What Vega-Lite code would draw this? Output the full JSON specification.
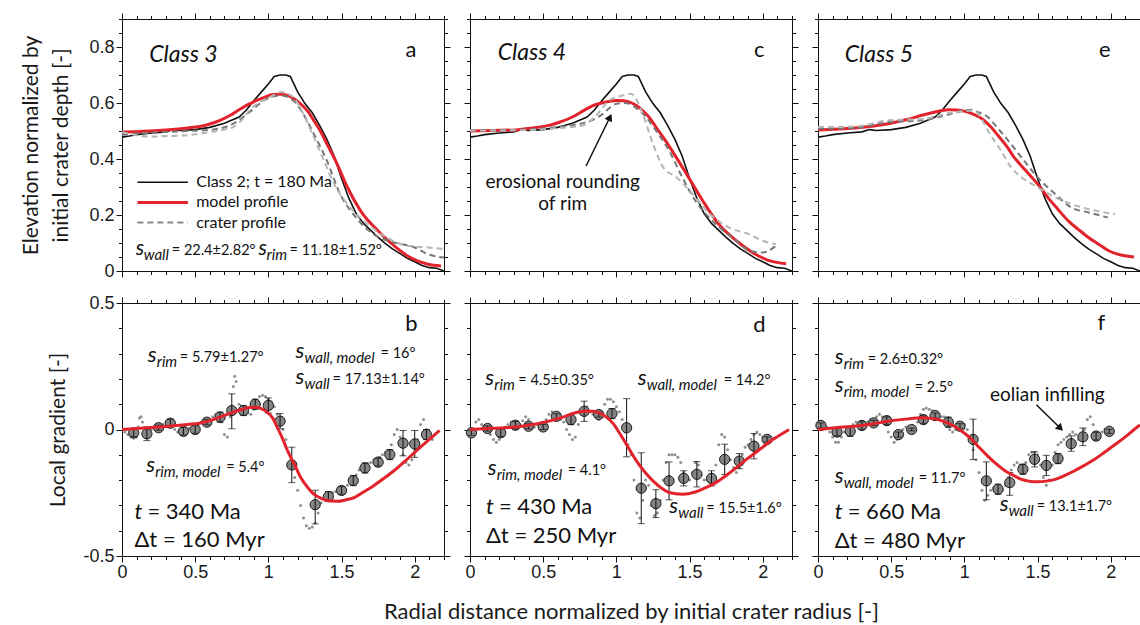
{
"$schema": "https://vega.github.io/schema/vega-lite/v6.json",
"padding": {"left": 20, "top": 9, "right": 0, "bottom": 0},
"background": "white",
"config": {
 "view": {"stroke": "#111", "strokeWidth": 1},
 "axis": {"domain": false, "grid": false, "tickColor": "#111", "tickWidth": 1, "labelFont": "Liberation Sans", "labelFontSize": 18, "labelColor": "#1a1a1a", "labelPadding": 2, "labelOverlap": false, "labelFlush": false, "titleFont": "Lato", "titleFontSize": 21, "titleFontWeight": "normal", "titleColor": "#1a1a1a"},
 "text": {"font": "Lato", "color": "#111"}
},
"datasets": {
 "class2": [{"x":0,"y":0.478},{"x":0.05,"y":0.482},{"x":0.1,"y":0.487},{"x":0.2,"y":0.493},{"x":0.3,"y":0.497},{"x":0.35,"y":0.505},{"x":0.4,"y":0.502},{"x":0.5,"y":0.505},{"x":0.6,"y":0.513},{"x":0.7,"y":0.528},{"x":0.8,"y":0.55},{"x":0.85,"y":0.575},{"x":0.9,"y":0.608},{"x":0.95,"y":0.638},{"x":1.0,"y":0.668},{"x":1.04,"y":0.695},{"x":1.08,"y":0.7},{"x":1.12,"y":0.7},{"x":1.15,"y":0.695},{"x":1.2,"y":0.64},{"x":1.25,"y":0.598},{"x":1.3,"y":0.565},{"x":1.35,"y":0.52},{"x":1.4,"y":0.47},{"x":1.45,"y":0.41},{"x":1.5,"y":0.33},{"x":1.55,"y":0.26},{"x":1.6,"y":0.205},{"x":1.65,"y":0.17},{"x":1.7,"y":0.145},{"x":1.75,"y":0.12},{"x":1.8,"y":0.098},{"x":1.85,"y":0.078},{"x":1.9,"y":0.062},{"x":1.95,"y":0.045},{"x":2.0,"y":0.033},{"x":2.05,"y":0.02},{"x":2.1,"y":0.012},{"x":2.15,"y":0.01},{"x":2.2,"y":0.0}],
 "a_model": [{"x":0,"y":0.496},{"x":0.15,"y":0.499},{"x":0.3,"y":0.504},{"x":0.45,"y":0.511},{"x":0.53,"y":0.516},{"x":0.6,"y":0.525},{"x":0.67,"y":0.538},{"x":0.74,"y":0.556},{"x":0.8,"y":0.576},{"x":0.86,"y":0.594},{"x":0.92,"y":0.609},{"x":0.98,"y":0.622},{"x":1.03,"y":0.63},{"x":1.08,"y":0.631},{"x":1.13,"y":0.627},{"x":1.18,"y":0.613},{"x":1.22,"y":0.597},{"x":1.27,"y":0.57},{"x":1.31,"y":0.538},{"x":1.36,"y":0.495},{"x":1.4,"y":0.454},{"x":1.47,"y":0.382},{"x":1.54,"y":0.299},{"x":1.63,"y":0.215},{"x":1.75,"y":0.143},{"x":1.86,"y":0.09},{"x":1.97,"y":0.048},{"x":2.09,"y":0.024},{"x":2.18,"y":0.018}],
 "a_crater1": [{"x":0,"y":0.487},{"x":0.15,"y":0.492},{"x":0.3,"y":0.496},{"x":0.45,"y":0.5},{"x":0.6,"y":0.504},{"x":0.76,"y":0.526},{"x":0.87,"y":0.567},{"x":0.99,"y":0.615},{"x":1.08,"y":0.627},{"x":1.17,"y":0.609},{"x":1.24,"y":0.56},{"x":1.31,"y":0.49},{"x":1.4,"y":0.394},{"x":1.49,"y":0.275},{"x":1.58,"y":0.203},{"x":1.72,"y":0.131},{"x":1.86,"y":0.102},{"x":2.0,"y":0.084},{"x":2.09,"y":0.06},{"x":2.2,"y":0.048}],
 "a_crater2": [{"x":0,"y":0.496},{"x":0.1,"y":0.485},{"x":0.19,"y":0.48},{"x":0.3,"y":0.482},{"x":0.42,"y":0.484},{"x":0.5,"y":0.488},{"x":0.6,"y":0.496},{"x":0.7,"y":0.505},{"x":0.76,"y":0.514},{"x":0.82,"y":0.54},{"x":0.87,"y":0.573},{"x":0.93,"y":0.6},{"x":0.99,"y":0.615},{"x":1.05,"y":0.632},{"x":1.09,"y":0.639},{"x":1.13,"y":0.633},{"x":1.17,"y":0.621},{"x":1.24,"y":0.56},{"x":1.31,"y":0.478},{"x":1.38,"y":0.394},{"x":1.45,"y":0.31},{"x":1.54,"y":0.239},{"x":1.68,"y":0.167},{"x":1.81,"y":0.119},{"x":1.95,"y":0.09},{"x":2.09,"y":0.084},{"x":2.2,"y":0.078}],
 "c_model": [{"x":0,"y":0.5},{"x":0.15,"y":0.502},{"x":0.31,"y":0.504},{"x":0.43,"y":0.511},{"x":0.54,"y":0.52},{"x":0.62,"y":0.533},{"x":0.7,"y":0.55},{"x":0.77,"y":0.571},{"x":0.84,"y":0.591},{"x":0.92,"y":0.603},{"x":1.0,"y":0.609},{"x":1.05,"y":0.608},{"x":1.09,"y":0.603},{"x":1.14,"y":0.59},{"x":1.18,"y":0.573},{"x":1.23,"y":0.545},{"x":1.27,"y":0.514},{"x":1.33,"y":0.47},{"x":1.38,"y":0.43},{"x":1.48,"y":0.346},{"x":1.59,"y":0.251},{"x":1.7,"y":0.167},{"x":1.82,"y":0.108},{"x":1.93,"y":0.066},{"x":2.05,"y":0.036},{"x":2.16,"y":0.026}],
 "c_crater1": [{"x":0,"y":0.502},{"x":0.15,"y":0.503},{"x":0.31,"y":0.504},{"x":0.54,"y":0.511},{"x":0.77,"y":0.528},{"x":0.84,"y":0.54},{"x":0.91,"y":0.562},{"x":0.96,"y":0.585},{"x":1.0,"y":0.597},{"x":1.05,"y":0.6},{"x":1.09,"y":0.597},{"x":1.14,"y":0.58},{"x":1.18,"y":0.562},{"x":1.27,"y":0.502},{"x":1.36,"y":0.43},{"x":1.45,"y":0.335},{"x":1.54,"y":0.251},{"x":1.68,"y":0.167},{"x":1.82,"y":0.108},{"x":1.91,"y":0.072},{"x":2.0,"y":0.066},{"x":2.09,"y":0.09}],
 "c_crater2": [{"x":0,"y":0.502},{"x":0.2,"y":0.502},{"x":0.43,"y":0.504},{"x":0.6,"y":0.51},{"x":0.77,"y":0.52},{"x":0.87,"y":0.56},{"x":0.95,"y":0.609},{"x":1.03,"y":0.625},{"x":1.1,"y":0.633},{"x":1.15,"y":0.6},{"x":1.18,"y":0.562},{"x":1.25,"y":0.454},{"x":1.32,"y":0.37},{"x":1.41,"y":0.335},{"x":1.5,"y":0.287},{"x":1.64,"y":0.203},{"x":1.77,"y":0.155},{"x":1.91,"y":0.131},{"x":2.0,"y":0.108},{"x":2.09,"y":0.096}],
 "e_model": [{"x":0,"y":0.504},{"x":0.25,"y":0.511},{"x":0.48,"y":0.526},{"x":0.6,"y":0.54},{"x":0.71,"y":0.556},{"x":0.8,"y":0.568},{"x":0.89,"y":0.576},{"x":0.95,"y":0.575},{"x":1.0,"y":0.571},{"x":1.06,"y":0.56},{"x":1.12,"y":0.544},{"x":1.18,"y":0.515},{"x":1.23,"y":0.484},{"x":1.29,"y":0.445},{"x":1.34,"y":0.406},{"x":1.4,"y":0.37},{"x":1.46,"y":0.335},{"x":1.52,"y":0.298},{"x":1.57,"y":0.263},{"x":1.64,"y":0.22},{"x":1.71,"y":0.179},{"x":1.78,"y":0.148},{"x":1.85,"y":0.119},{"x":1.92,"y":0.095},{"x":1.98,"y":0.074},{"x":2.07,"y":0.057},{"x":2.16,"y":0.05}],
 "e_crater1": [{"x":0,"y":0.508},{"x":0.25,"y":0.511},{"x":0.48,"y":0.532},{"x":0.71,"y":0.538},{"x":0.87,"y":0.556},{"x":0.96,"y":0.568},{"x":1.05,"y":0.576},{"x":1.1,"y":0.566},{"x":1.16,"y":0.55},{"x":1.22,"y":0.515},{"x":1.28,"y":0.478},{"x":1.39,"y":0.406},{"x":1.5,"y":0.335},{"x":1.62,"y":0.275},{"x":1.73,"y":0.227},{"x":1.85,"y":0.209},{"x":1.98,"y":0.191}],
 "e_crater2": [{"x":0,"y":0.514},{"x":0.25,"y":0.516},{"x":0.48,"y":0.538},{"x":0.71,"y":0.543},{"x":0.93,"y":0.567},{"x":1.07,"y":0.573},{"x":1.12,"y":0.54},{"x":1.16,"y":0.502},{"x":1.25,"y":0.43},{"x":1.32,"y":0.37},{"x":1.39,"y":0.335},{"x":1.5,"y":0.299},{"x":1.62,"y":0.263},{"x":1.73,"y":0.239},{"x":1.85,"y":0.221},{"x":2.03,"y":0.203}],
 "b_model": [{"x":0,"y":0},{"x":0.15,"y":0.006},{"x":0.3,"y":0.012},{"x":0.45,"y":0.02},{"x":0.53,"y":0.025},{"x":0.6,"y":0.035},{"x":0.67,"y":0.049},{"x":0.74,"y":0.064},{"x":0.81,"y":0.078},{"x":0.87,"y":0.087},{"x":0.92,"y":0.088},{"x":0.96,"y":0.08},{"x":0.99,"y":0.069},{"x":1.03,"y":0.045},{"x":1.06,"y":0.009},{"x":1.1,"y":-0.04},{"x":1.13,"y":-0.083},{"x":1.18,"y":-0.14},{"x":1.22,"y":-0.189},{"x":1.27,"y":-0.23},{"x":1.31,"y":-0.255},{"x":1.36,"y":-0.272},{"x":1.4,"y":-0.281},{"x":1.47,"y":-0.284},{"x":1.53,"y":-0.278},{"x":1.59,"y":-0.268},{"x":1.65,"y":-0.247},{"x":1.72,"y":-0.222},{"x":1.79,"y":-0.193},{"x":1.86,"y":-0.162},{"x":1.93,"y":-0.127},{"x":2.0,"y":-0.09},{"x":2.09,"y":-0.044},{"x":2.17,"y":-0.004}],
 "d_model": [{"x":0,"y":0},{"x":0.15,"y":0.005},{"x":0.31,"y":0.01},{"x":0.43,"y":0.02},{"x":0.54,"y":0.033},{"x":0.63,"y":0.048},{"x":0.72,"y":0.066},{"x":0.78,"y":0.072},{"x":0.84,"y":0.072},{"x":0.89,"y":0.064},{"x":0.93,"y":0.05},{"x":0.98,"y":0.022},{"x":1.02,"y":-0.013},{"x":1.07,"y":-0.06},{"x":1.13,"y":-0.118},{"x":1.19,"y":-0.165},{"x":1.25,"y":-0.203},{"x":1.3,"y":-0.228},{"x":1.36,"y":-0.249},{"x":1.45,"y":-0.256},{"x":1.54,"y":-0.247},{"x":1.61,"y":-0.23},{"x":1.68,"y":-0.21},{"x":1.75,"y":-0.182},{"x":1.82,"y":-0.151},{"x":1.88,"y":-0.122},{"x":1.95,"y":-0.092},{"x":2.01,"y":-0.065},{"x":2.07,"y":-0.039},{"x":2.13,"y":-0.018},{"x":2.18,"y":0.0}],
 "f_model": [{"x":0,"y":0},{"x":0.12,"y":0.007},{"x":0.25,"y":0.013},{"x":0.37,"y":0.022},{"x":0.48,"y":0.033},{"x":0.6,"y":0.041},{"x":0.71,"y":0.046},{"x":0.77,"y":0.044},{"x":0.82,"y":0.039},{"x":0.88,"y":0.027},{"x":0.93,"y":0.013},{"x":0.99,"y":-0.01},{"x":1.05,"y":-0.039},{"x":1.1,"y":-0.07},{"x":1.16,"y":-0.105},{"x":1.22,"y":-0.137},{"x":1.28,"y":-0.164},{"x":1.34,"y":-0.183},{"x":1.39,"y":-0.197},{"x":1.45,"y":-0.205},{"x":1.5,"y":-0.207},{"x":1.56,"y":-0.204},{"x":1.62,"y":-0.197},{"x":1.68,"y":-0.183},{"x":1.75,"y":-0.164},{"x":1.82,"y":-0.142},{"x":1.89,"y":-0.118},{"x":1.96,"y":-0.089},{"x":2.03,"y":-0.059},{"x":2.1,"y":-0.029},{"x":2.16,"y":0.0},{"x":2.2,"y":0.018}],
 "b_bins": [{"x":0.08,"y":-0.013,"lo":-0.028,"hi":0.002},{"x":0.17,"y":-0.017,"lo":-0.044,"hi":0.01},{"x":0.25,"y":0.007,"lo":-0.003,"hi":0.017},{"x":0.33,"y":0.025,"lo":0.01,"hi":0.04},{"x":0.42,"y":-0.007,"lo":-0.022,"hi":0.008},{"x":0.5,"y":0.0,"lo":-0.015,"hi":0.015},{"x":0.58,"y":0.029,"lo":0.019,"hi":0.039},{"x":0.67,"y":0.049,"lo":0.029,"hi":0.069},{"x":0.75,"y":0.075,"lo":0.003,"hi":0.141},{"x":0.83,"y":0.075,"lo":0.055,"hi":0.095},{"x":0.91,"y":0.1,"lo":0.08,"hi":0.12},{"x":1.0,"y":0.095,"lo":0.065,"hi":0.125},{"x":1.08,"y":0.033,"lo":0.003,"hi":0.063},{"x":1.16,"y":-0.14,"lo":-0.21,"hi":-0.07},{"x":1.32,"y":-0.297,"lo":-0.373,"hi":-0.24},{"x":1.41,"y":-0.265,"lo":-0.285,"hi":-0.245},{"x":1.5,"y":-0.241,"lo":-0.256,"hi":-0.226},{"x":1.58,"y":-0.202,"lo":-0.222,"hi":-0.182},{"x":1.66,"y":-0.152,"lo":-0.172,"hi":-0.132},{"x":1.75,"y":-0.129,"lo":-0.144,"hi":-0.114},{"x":1.83,"y":-0.099,"lo":-0.119,"hi":-0.079},{"x":1.92,"y":-0.054,"lo":-0.104,"hi":-0.004},{"x":2.0,"y":-0.057,"lo":-0.11,"hi":-0.004},{"x":2.08,"y":-0.02,"lo":-0.04,"hi":0.0}],
 "d_bins": [{"x":0.01,"y":-0.013,"lo":-0.023,"hi":-0.003},{"x":0.12,"y":0.004,"lo":-0.006,"hi":0.014},{"x":0.21,"y":-0.013,"lo":-0.028,"hi":0.002},{"x":0.31,"y":0.017,"lo":0.002,"hi":0.032},{"x":0.4,"y":0.013,"lo":0.003,"hi":0.023},{"x":0.5,"y":0.01,"lo":0.0,"hi":0.02},{"x":0.59,"y":0.052,"lo":0.042,"hi":0.062},{"x":0.69,"y":0.039,"lo":0.019,"hi":0.059},{"x":0.78,"y":0.072,"lo":0.032,"hi":0.112},{"x":0.88,"y":0.059,"lo":0.049,"hi":0.069},{"x":0.97,"y":0.063,"lo":0.043,"hi":0.083},{"x":1.07,"y":0.007,"lo":-0.108,"hi":0.122},{"x":1.17,"y":-0.232,"lo":-0.372,"hi":-0.092},{"x":1.27,"y":-0.293,"lo":-0.348,"hi":-0.238},{"x":1.36,"y":-0.203,"lo":-0.278,"hi":-0.128},{"x":1.46,"y":-0.193,"lo":-0.223,"hi":-0.163},{"x":1.55,"y":-0.177,"lo":-0.227,"hi":-0.127},{"x":1.65,"y":-0.193,"lo":-0.223,"hi":-0.163},{"x":1.74,"y":-0.118,"lo":-0.178,"hi":-0.058},{"x":1.84,"y":-0.125,"lo":-0.155,"hi":-0.095},{"x":1.94,"y":-0.066,"lo":-0.116,"hi":-0.016},{"x":2.03,"y":-0.039,"lo":-0.049,"hi":-0.029}],
 "f_bins": [{"x":0.02,"y":0.016,"lo":0.006,"hi":0.026},{"x":0.13,"y":-0.01,"lo":-0.025,"hi":0.005},{"x":0.22,"y":-0.007,"lo":-0.027,"hi":0.013},{"x":0.3,"y":0.016,"lo":0.001,"hi":0.031},{"x":0.38,"y":0.026,"lo":0.016,"hi":0.036},{"x":0.47,"y":0.035,"lo":0.02,"hi":0.05},{"x":0.55,"y":-0.02,"lo":-0.03,"hi":-0.01},{"x":0.64,"y":0.0,"lo":-0.005,"hi":0.005},{"x":0.72,"y":0.039,"lo":0.024,"hi":0.054},{"x":0.8,"y":0.055,"lo":0.045,"hi":0.065},{"x":0.89,"y":0.029,"lo":0.009,"hi":0.049},{"x":0.97,"y":0.013,"lo":0.003,"hi":0.023},{"x":1.06,"y":-0.039,"lo":-0.119,"hi":0.041},{"x":1.15,"y":-0.203,"lo":-0.278,"hi":-0.128},{"x":1.23,"y":-0.236,"lo":-0.256,"hi":-0.216},{"x":1.31,"y":-0.21,"lo":-0.26,"hi":-0.17},{"x":1.4,"y":-0.157,"lo":-0.177,"hi":-0.137},{"x":1.48,"y":-0.118,"lo":-0.148,"hi":-0.088},{"x":1.56,"y":-0.142,"lo":-0.182,"hi":-0.102},{"x":1.64,"y":-0.115,"lo":-0.135,"hi":-0.095},{"x":1.73,"y":-0.056,"lo":-0.086,"hi":-0.026},{"x":1.81,"y":-0.029,"lo":-0.064,"hi":0.006},{"x":1.9,"y":-0.026,"lo":-0.041,"hi":-0.011},{"x":1.99,"y":-0.007,"lo":-0.015,"hi":0.001}],
 "b_dots": [{"x":0.02,"y":-0.01},{"x":0.04,"y":-0.02},{"x":0.06,"y":-0.03},{"x":0.08,"y":-0.035},{"x":0.1,"y":-0.03},{"x":0.11,"y":0.01},{"x":0.12,"y":0.045},{"x":0.13,"y":0.05},{"x":0.14,"y":0.03},{"x":0.16,"y":-0.02},{"x":0.18,"y":-0.01},{"x":0.2,"y":0.0},{"x":0.22,"y":0.01},{"x":0.24,"y":0.0},{"x":0.26,"y":0.01},{"x":0.28,"y":0.02},{"x":0.3,"y":0.03},{"x":0.32,"y":0.035},{"x":0.34,"y":0.02},{"x":0.36,"y":0.0},{"x":0.38,"y":-0.01},{"x":0.4,"y":-0.015},{"x":0.42,"y":-0.01},{"x":0.44,"y":0.0},{"x":0.46,"y":0.005},{"x":0.48,"y":0.0},{"x":0.5,"y":0.01},{"x":0.52,"y":0.02},{"x":0.54,"y":0.03},{"x":0.56,"y":0.03},{"x":0.58,"y":0.035},{"x":0.6,"y":0.04},{"x":0.62,"y":0.05},{"x":0.64,"y":0.06},{"x":0.66,"y":0.06},{"x":0.68,"y":0.03},{"x":0.7,"y":-0.02},{"x":0.72,"y":-0.03},{"x":0.74,"y":0.05},{"x":0.76,"y":0.17},{"x":0.77,"y":0.21},{"x":0.78,"y":0.19},{"x":0.8,"y":0.1},{"x":0.82,"y":0.07},{"x":0.84,"y":0.06},{"x":0.86,"y":0.065},{"x":0.88,"y":0.06},{"x":0.9,"y":0.08},{"x":0.92,"y":0.11},{"x":0.94,"y":0.13},{"x":0.96,"y":0.135},{"x":0.98,"y":0.13},{"x":1.0,"y":0.12},{"x":1.02,"y":0.11},{"x":1.04,"y":0.09},{"x":1.06,"y":0.06},{"x":1.08,"y":0.03},{"x":1.1,"y":0.0},{"x":1.12,"y":-0.04},{"x":1.14,"y":-0.09},{"x":1.16,"y":-0.14},{"x":1.18,"y":-0.19},{"x":1.2,"y":-0.24},{"x":1.22,"y":-0.3},{"x":1.24,"y":-0.35},{"x":1.26,"y":-0.38},{"x":1.28,"y":-0.39},{"x":1.3,"y":-0.385},{"x":1.32,"y":-0.37},{"x":1.34,"y":-0.33},{"x":1.36,"y":-0.29},{"x":1.38,"y":-0.27},{"x":1.4,"y":-0.26},{"x":1.42,"y":-0.255},{"x":1.44,"y":-0.25},{"x":1.46,"y":-0.245},{"x":1.48,"y":-0.24},{"x":1.5,"y":-0.235},{"x":1.52,"y":-0.23},{"x":1.54,"y":-0.22},{"x":1.56,"y":-0.2},{"x":1.58,"y":-0.19},{"x":1.6,"y":-0.18},{"x":1.62,"y":-0.16},{"x":1.64,"y":-0.15},{"x":1.66,"y":-0.14},{"x":1.68,"y":-0.135},{"x":1.7,"y":-0.13},{"x":1.72,"y":-0.12},{"x":1.74,"y":-0.115},{"x":1.76,"y":-0.11},{"x":1.78,"y":-0.1},{"x":1.8,"y":-0.09},{"x":1.82,"y":-0.085},{"x":1.84,"y":-0.06},{"x":1.86,"y":-0.02},{"x":1.88,"y":0.0},{"x":1.9,"y":-0.03},{"x":1.92,"y":-0.1},{"x":1.94,"y":-0.13},{"x":1.96,"y":-0.14},{"x":1.98,"y":-0.12},{"x":2.0,"y":-0.08},{"x":2.02,"y":-0.04},{"x":2.04,"y":0.02},{"x":2.06,"y":0.04},{"x":2.08,"y":0.0},{"x":2.1,"y":-0.02},{"x":2.12,"y":-0.04}],
 "d_dots": [{"x":0.0,"y":-0.01},{"x":0.02,"y":0.0},{"x":0.04,"y":0.03},{"x":0.06,"y":0.04},{"x":0.08,"y":0.02},{"x":0.1,"y":0.0},{"x":0.12,"y":-0.01},{"x":0.14,"y":-0.02},{"x":0.16,"y":-0.04},{"x":0.18,"y":-0.05},{"x":0.2,"y":-0.04},{"x":0.22,"y":-0.01},{"x":0.24,"y":0.01},{"x":0.26,"y":0.02},{"x":0.28,"y":0.03},{"x":0.3,"y":0.02},{"x":0.32,"y":0.01},{"x":0.34,"y":0.02},{"x":0.36,"y":0.035},{"x":0.38,"y":0.05},{"x":0.4,"y":0.04},{"x":0.42,"y":0.02},{"x":0.44,"y":0.01},{"x":0.46,"y":0.02},{"x":0.48,"y":0.01},{"x":0.5,"y":0.02},{"x":0.52,"y":0.04},{"x":0.54,"y":0.06},{"x":0.56,"y":0.07},{"x":0.58,"y":0.06},{"x":0.6,"y":0.05},{"x":0.62,"y":0.04},{"x":0.64,"y":0.03},{"x":0.66,"y":0.0},{"x":0.68,"y":-0.02},{"x":0.7,"y":-0.04},{"x":0.72,"y":-0.03},{"x":0.74,"y":0.02},{"x":0.76,"y":0.06},{"x":0.78,"y":0.08},{"x":0.8,"y":0.09},{"x":0.82,"y":0.07},{"x":0.84,"y":0.06},{"x":0.86,"y":0.05},{"x":0.88,"y":0.04},{"x":0.9,"y":0.07},{"x":0.92,"y":0.1},{"x":0.94,"y":0.12},{"x":0.96,"y":0.12},{"x":0.98,"y":0.11},{"x":1.0,"y":0.09},{"x":1.02,"y":0.07},{"x":1.04,"y":0.04},{"x":1.06,"y":-0.01},{"x":1.08,"y":-0.06},{"x":1.1,"y":-0.1},{"x":1.12,"y":-0.2},{"x":1.14,"y":-0.33},{"x":1.16,"y":-0.35},{"x":1.18,"y":-0.28},{"x":1.2,"y":-0.2},{"x":1.22,"y":-0.22},{"x":1.24,"y":-0.3},{"x":1.26,"y":-0.34},{"x":1.28,"y":-0.33},{"x":1.3,"y":-0.28},{"x":1.32,"y":-0.2},{"x":1.34,"y":-0.13},{"x":1.36,"y":-0.1},{"x":1.38,"y":-0.1},{"x":1.4,"y":-0.1},{"x":1.42,"y":-0.11},{"x":1.44,"y":-0.13},{"x":1.46,"y":-0.17},{"x":1.48,"y":-0.19},{"x":1.5,"y":-0.2},{"x":1.52,"y":-0.17},{"x":1.54,"y":-0.13},{"x":1.56,"y":-0.14},{"x":1.58,"y":-0.18},{"x":1.6,"y":-0.2},{"x":1.62,"y":-0.2},{"x":1.64,"y":-0.21},{"x":1.66,"y":-0.19},{"x":1.68,"y":-0.14},{"x":1.7,"y":-0.06},{"x":1.72,"y":-0.02},{"x":1.74,"y":-0.03},{"x":1.76,"y":-0.08},{"x":1.78,"y":-0.12},{"x":1.8,"y":-0.15},{"x":1.82,"y":-0.17},{"x":1.84,"y":-0.15},{"x":1.86,"y":-0.1},{"x":1.88,"y":-0.07},{"x":1.9,"y":-0.06},{"x":1.92,"y":-0.04},{"x":1.94,"y":-0.02},{"x":1.96,"y":-0.01},{"x":1.98,"y":-0.02},{"x":2.0,"y":-0.03},{"x":2.02,"y":-0.04},{"x":2.04,"y":-0.03}],
 "f_dots": [{"x":0.0,"y":0.01},{"x":0.02,"y":0.03},{"x":0.04,"y":0.025},{"x":0.06,"y":0.01},{"x":0.08,"y":-0.01},{"x":0.1,"y":-0.03},{"x":0.12,"y":-0.05},{"x":0.14,"y":-0.05},{"x":0.16,"y":-0.03},{"x":0.18,"y":-0.01},{"x":0.2,"y":0.0},{"x":0.22,"y":0.01},{"x":0.24,"y":0.02},{"x":0.26,"y":0.03},{"x":0.28,"y":0.02},{"x":0.3,"y":0.01},{"x":0.32,"y":0.02},{"x":0.34,"y":0.03},{"x":0.36,"y":0.04},{"x":0.38,"y":0.04},{"x":0.4,"y":0.05},{"x":0.42,"y":0.06},{"x":0.44,"y":0.05},{"x":0.46,"y":0.02},{"x":0.48,"y":-0.01},{"x":0.5,"y":-0.03},{"x":0.52,"y":-0.05},{"x":0.54,"y":-0.04},{"x":0.56,"y":-0.02},{"x":0.58,"y":0.0},{"x":0.6,"y":0.01},{"x":0.62,"y":0.0},{"x":0.64,"y":0.0},{"x":0.66,"y":0.01},{"x":0.68,"y":0.03},{"x":0.7,"y":0.06},{"x":0.72,"y":0.08},{"x":0.74,"y":0.085},{"x":0.76,"y":0.08},{"x":0.78,"y":0.075},{"x":0.8,"y":0.07},{"x":0.82,"y":0.06},{"x":0.84,"y":0.05},{"x":0.86,"y":0.05},{"x":0.88,"y":0.03},{"x":0.9,"y":0.0},{"x":0.92,"y":-0.01},{"x":0.94,"y":0.0},{"x":0.96,"y":0.02},{"x":0.98,"y":0.025},{"x":1.0,"y":0.02},{"x":1.02,"y":0.0},{"x":1.04,"y":-0.04},{"x":1.06,"y":-0.08},{"x":1.08,"y":-0.12},{"x":1.1,"y":-0.17},{"x":1.12,"y":-0.24},{"x":1.14,"y":-0.28},{"x":1.16,"y":-0.26},{"x":1.18,"y":-0.24},{"x":1.2,"y":-0.23},{"x":1.22,"y":-0.24},{"x":1.24,"y":-0.25},{"x":1.26,"y":-0.24},{"x":1.28,"y":-0.22},{"x":1.3,"y":-0.19},{"x":1.32,"y":-0.16},{"x":1.34,"y":-0.14},{"x":1.36,"y":-0.13},{"x":1.38,"y":-0.14},{"x":1.4,"y":-0.15},{"x":1.42,"y":-0.13},{"x":1.44,"y":-0.1},{"x":1.46,"y":-0.09},{"x":1.48,"y":-0.09},{"x":1.5,"y":-0.1},{"x":1.52,"y":-0.14},{"x":1.54,"y":-0.19},{"x":1.56,"y":-0.22},{"x":1.58,"y":-0.2},{"x":1.6,"y":-0.14},{"x":1.62,"y":-0.09},{"x":1.64,"y":-0.06},{"x":1.66,"y":-0.05},{"x":1.68,"y":-0.04},{"x":1.7,"y":-0.03},{"x":1.72,"y":-0.02},{"x":1.74,"y":-0.01},{"x":1.76,"y":-0.02},{"x":1.78,"y":-0.04},{"x":1.8,"y":-0.03},{"x":1.82,"y":0.0},{"x":1.84,"y":0.04},{"x":1.86,"y":0.05},{"x":1.88,"y":0.02},{"x":1.9,"y":-0.01},{"x":1.92,"y":-0.02},{"x":1.94,"y":-0.01},{"x":1.96,"y":0.0},{"x":1.98,"y":-0.01},{"x":2.0,"y":-0.01}]
},
"columns": 3,
"bounds": "flush",
"spacing": {"row": 32, "column": 26},
"concat": [
 {
  "width": 322, "height": 252,
  "data": {"values": [{}]},
  "resolve": {"axis": {"x": "independent", "y": "independent"}},
  "layer": [
   {"data": {"name": "class2"}, "mark": {"type": "line", "color": "#111", "strokeWidth": 1.6, "clip": true},
    "encoding": {
     "x": {"field": "x", "type": "quantitative", "scale": {"domain": [0, 2.2], "nice": false, "zero": false},
       "axis": {"orient": "bottom", "values": [0,0.1,0.2,0.3,0.4,0.5,0.6,0.7,0.8,0.9,1,1.1,1.2,1.3,1.4,1.5,1.6,1.7,1.8,1.9,2,2.1,2.2], "tickSize": {"condition": {"test": "abs(datum.value*2-round(datum.value*2))<0.001", "value": 6}, "value": 3.5}, "labels": false, "title": null}},
     "y": {"field": "y", "type": "quantitative", "scale": {"domain": [0, 0.9], "nice": false, "zero": false},
       "axis": {"orient": "left", "values": [0,0.05,0.1,0.15,0.2,0.25,0.3,0.35,0.4,0.45,0.5,0.55,0.6,0.65,0.7,0.75,0.8,0.85,0.9], "tickSize": {"condition": {"test": "abs(datum.value*5-round(datum.value*5))<0.001", "value": 6}, "value": 3.5}, "labelExpr": "abs(datum.value*5-round(datum.value*5))<0.001 ? format(datum.value,'~g') : ''", "title": ["Elevation normalized by", "initial crater depth [-]"], "titlePadding": 17, "titleLineHeight": 30}}
    }},
   {"data": {"name": "a_model"}, "mark": {"type": "line", "color": "#e2232c", "strokeWidth": 3, "interpolate": "monotone", "clip": true},
    "encoding": {"x": {"field": "x", "type": "quantitative", "axis": null}, "y": {"field": "y", "type": "quantitative", "axis": null}}},
   {"data": {"name": "a_crater1"}, "mark": {"type": "line", "color": "#777", "strokeWidth": 2, "strokeDash": [6, 4], "interpolate": "monotone", "clip": true},
    "encoding": {"x": {"field": "x", "type": "quantitative", "axis": null}, "y": {"field": "y", "type": "quantitative", "axis": null}}},
   {"data": {"name": "a_crater2"}, "mark": {"type": "line", "color": "#b5b5b5", "strokeWidth": 2, "strokeDash": [6, 4], "interpolate": "monotone", "clip": true},
    "encoding": {"x": {"field": "x", "type": "quantitative", "axis": null}, "y": {"field": "y", "type": "quantitative", "axis": null}}},
   {"mark": {"type": "text", "text": "Class 3", "fontSize": 23, "fontStyle": "italic", "align": "left", "baseline": "middle"},
    "encoding": {"x": {"datum": 0.186, "type": "quantitative", "axis": null}, "y": {"datum": 0.77, "type": "quantitative", "axis": null}}},
   {"mark": {"type": "text", "text": "a", "fontSize": 22, "align": "center", "baseline": "middle"},
    "encoding": {"x": {"datum": 1.975, "type": "quantitative", "axis": null}, "y": {"datum": 0.788, "type": "quantitative", "axis": null}}},
   {"mark": {"type": "rule", "color": "#111", "strokeWidth": 1.6},
    "encoding": {"x": {"datum": 0.105, "type": "quantitative", "axis": null}, "x2": {"datum": 0.45}, "y": {"datum": 0.317, "type": "quantitative", "axis": null}}},
   {"mark": {"type": "rule", "color": "#e2232c", "strokeWidth": 3},
    "encoding": {"x": {"datum": 0.105, "type": "quantitative", "axis": null}, "x2": {"datum": 0.45}, "y": {"datum": 0.245, "type": "quantitative", "axis": null}}},
   {"mark": {"type": "rule", "color": "#888", "strokeWidth": 2, "strokeDash": [6, 4]},
    "encoding": {"x": {"datum": 0.105, "type": "quantitative", "axis": null}, "x2": {"datum": 0.45}, "y": {"datum": 0.173, "type": "quantitative", "axis": null}}},
   {"mark": {"type": "text", "text": "Class 2; t = 180 Ma", "fontSize": 16, "align": "left", "baseline": "middle"},
    "encoding": {"x": {"datum": 0.507, "type": "quantitative", "axis": null}, "y": {"datum": 0.317, "type": "quantitative", "axis": null}}},
   {"mark": {"type": "text", "text": "model profile", "fontSize": 16, "align": "left", "baseline": "middle"},
    "encoding": {"x": {"datum": 0.507, "type": "quantitative", "axis": null}, "y": {"datum": 0.245, "type": "quantitative", "axis": null}}},
   {"mark": {"type": "text", "text": "crater profile", "fontSize": 16, "align": "left", "baseline": "middle"},
    "encoding": {"x": {"datum": 0.507, "type": "quantitative", "axis": null}, "y": {"datum": 0.173, "type": "quantitative", "axis": null}}},
   {"mark": {"type": "text", "text": "s", "fontSize": 21, "fontStyle": "italic", "align": "left", "baseline": "middle", "dy": -2},
    "encoding": {"x": {"datum": 0.094, "type": "quantitative", "axis": null}, "y": {"datum": 0.072, "type": "quantitative", "axis": null}}},
   {"mark": {"type": "text", "text": "wall", "fontSize": 15, "fontStyle": "italic", "align": "left", "baseline": "middle", "dx": 8, "dy": 4},
    "encoding": {"x": {"datum": 0.094, "type": "quantitative", "axis": null}, "y": {"datum": 0.072, "type": "quantitative", "axis": null}}},
   {"mark": {"type": "text", "text": "= 22.4±2.82°", "fontSize": 14.5, "align": "left", "baseline": "middle", "dx": 36},
    "encoding": {"x": {"datum": 0.094, "type": "quantitative", "axis": null}, "y": {"datum": 0.072, "type": "quantitative", "axis": null}}},
   {"mark": {"type": "text", "text": "s", "fontSize": 21, "fontStyle": "italic", "align": "left", "baseline": "middle", "dy": -2},
    "encoding": {"x": {"datum": 0.933, "type": "quantitative", "axis": null}, "y": {"datum": 0.072, "type": "quantitative", "axis": null}}},
   {"mark": {"type": "text", "text": "rim", "fontSize": 15, "fontStyle": "italic", "align": "left", "baseline": "middle", "dx": 8, "dy": 4},
    "encoding": {"x": {"datum": 0.933, "type": "quantitative", "axis": null}, "y": {"datum": 0.072, "type": "quantitative", "axis": null}}},
   {"mark": {"type": "text", "text": "= 11.18±1.52°", "fontSize": 14.5, "align": "left", "baseline": "middle", "dx": 31},
    "encoding": {"x": {"datum": 0.933, "type": "quantitative", "axis": null}, "y": {"datum": 0.072, "type": "quantitative", "axis": null}}},
   {"data": {"name": "class2"}, "mark": {"type": "point", "opacity": 0},
    "encoding": {
     "x": {"field": "x", "type": "quantitative", "axis": {"orient": "top", "values": [0,0.1,0.2,0.3,0.4,0.5,0.6,0.7,0.8,0.9,1,1.1,1.2,1.3,1.4,1.5,1.6,1.7,1.8,1.9,2,2.1,2.2], "tickSize": {"condition": {"test": "abs(datum.value*2-round(datum.value*2))<0.001", "value": 6}, "value": 3.5}, "labels": false, "title": null}},
     "y": {"field": "y", "type": "quantitative", "axis": {"orient": "right", "values": [0,0.05,0.1,0.15,0.2,0.25,0.3,0.35,0.4,0.45,0.5,0.55,0.6,0.65,0.7,0.75,0.8,0.85,0.9], "tickSize": {"condition": {"test": "abs(datum.value*5-round(datum.value*5))<0.001", "value": 6}, "value": 3.5}, "labels": false, "title": null}}
    }}
  ]
 },
 {
  "width": 322, "height": 252,
  "data": {"values": [{}]},
  "resolve": {"axis": {"x": "independent", "y": "independent"}},
  "layer": [
   {"data": {"name": "class2"}, "mark": {"type": "line", "color": "#111", "strokeWidth": 1.6, "clip": true},
    "encoding": {
     "x": {"field": "x", "type": "quantitative", "scale": {"domain": [0, 2.2], "nice": false, "zero": false},
       "axis": {"orient": "bottom", "values": [0,0.1,0.2,0.3,0.4,0.5,0.6,0.7,0.8,0.9,1,1.1,1.2,1.3,1.4,1.5,1.6,1.7,1.8,1.9,2,2.1,2.2], "tickSize": {"condition": {"test": "abs(datum.value*2-round(datum.value*2))<0.001", "value": 6}, "value": 3.5}, "labels": false, "title": null}},
     "y": {"field": "y", "type": "quantitative", "scale": {"domain": [0, 0.9], "nice": false, "zero": false},
       "axis": {"orient": "left", "values": [0,0.05,0.1,0.15,0.2,0.25,0.3,0.35,0.4,0.45,0.5,0.55,0.6,0.65,0.7,0.75,0.8,0.85,0.9], "tickSize": {"condition": {"test": "abs(datum.value*5-round(datum.value*5))<0.001", "value": 6}, "value": 3.5}, "labels": false, "title": null}}
    }},
   {"data": {"name": "c_model"}, "mark": {"type": "line", "color": "#e2232c", "strokeWidth": 3, "interpolate": "monotone", "clip": true},
    "encoding": {"x": {"field": "x", "type": "quantitative", "axis": null}, "y": {"field": "y", "type": "quantitative", "axis": null}}},
   {"data": {"name": "c_crater1"}, "mark": {"type": "line", "color": "#777", "strokeWidth": 2, "strokeDash": [6, 4], "interpolate": "monotone", "clip": true},
    "encoding": {"x": {"field": "x", "type": "quantitative", "axis": null}, "y": {"field": "y", "type": "quantitative", "axis": null}}},
   {"data": {"name": "c_crater2"}, "mark": {"type": "line", "color": "#b5b5b5", "strokeWidth": 2, "strokeDash": [6, 4], "interpolate": "monotone", "clip": true},
    "encoding": {"x": {"field": "x", "type": "quantitative", "axis": null}, "y": {"field": "y", "type": "quantitative", "axis": null}}},
   {"mark": {"type": "text", "text": "Class 4", "fontSize": 23, "fontStyle": "italic", "align": "left", "baseline": "middle"},
    "encoding": {"x": {"datum": 0.189, "type": "quantitative", "axis": null}, "y": {"datum": 0.777, "type": "quantitative", "axis": null}}},
   {"mark": {"type": "text", "text": "c", "fontSize": 22, "align": "center", "baseline": "middle"},
    "encoding": {"x": {"datum": 1.977, "type": "quantitative", "axis": null}, "y": {"datum": 0.79, "type": "quantitative", "axis": null}}},
   {"mark": {"type": "text", "text": "erosional rounding", "fontSize": 19, "align": "center", "baseline": "middle"},
    "encoding": {"x": {"datum": 0.633, "type": "quantitative", "axis": null}, "y": {"datum": 0.318, "type": "quantitative", "axis": null}}},
   {"mark": {"type": "text", "text": "of rim", "fontSize": 19, "align": "center", "baseline": "middle"},
    "encoding": {"x": {"datum": 0.633, "type": "quantitative", "axis": null}, "y": {"datum": 0.24, "type": "quantitative", "axis": null}}},
   {"mark": {"type": "rule", "color": "#111", "strokeWidth": 1.5},
    "encoding": {"x": {"datum": 0.793, "type": "quantitative", "axis": null}, "y": {"datum": 0.375, "type": "quantitative", "axis": null}, "x2": {"datum": 0.956}, "y2": {"datum": 0.549}}},
   {"mark": {"type": "point", "shape": "triangle-up", "filled": true, "color": "#111", "opacity": 1, "size": 70, "angle": 26},
    "encoding": {"x": {"datum": 0.956, "type": "quantitative", "axis": null}, "y": {"datum": 0.549, "type": "quantitative", "axis": null}}},
   {"data": {"name": "class2"}, "mark": {"type": "point", "opacity": 0},
    "encoding": {
     "x": {"field": "x", "type": "quantitative", "axis": {"orient": "top", "values": [0,0.1,0.2,0.3,0.4,0.5,0.6,0.7,0.8,0.9,1,1.1,1.2,1.3,1.4,1.5,1.6,1.7,1.8,1.9,2,2.1,2.2], "tickSize": {"condition": {"test": "abs(datum.value*2-round(datum.value*2))<0.001", "value": 6}, "value": 3.5}, "labels": false, "title": null}},
     "y": {"field": "y", "type": "quantitative", "axis": {"orient": "right", "values": [0,0.05,0.1,0.15,0.2,0.25,0.3,0.35,0.4,0.45,0.5,0.55,0.6,0.65,0.7,0.75,0.8,0.85,0.9], "tickSize": {"condition": {"test": "abs(datum.value*5-round(datum.value*5))<0.001", "value": 6}, "value": 3.5}, "labels": false, "title": null}}
    }}
  ]
 },
 {
  "width": 322, "height": 252,
  "data": {"values": [{}]},
  "resolve": {"axis": {"x": "independent", "y": "independent"}},
  "layer": [
   {"data": {"name": "class2"}, "mark": {"type": "line", "color": "#111", "strokeWidth": 1.6, "clip": true},
    "encoding": {
     "x": {"field": "x", "type": "quantitative", "scale": {"domain": [0, 2.2], "nice": false, "zero": false},
       "axis": {"orient": "bottom", "values": [0,0.1,0.2,0.3,0.4,0.5,0.6,0.7,0.8,0.9,1,1.1,1.2,1.3,1.4,1.5,1.6,1.7,1.8,1.9,2,2.1,2.2], "tickSize": {"condition": {"test": "abs(datum.value*2-round(datum.value*2))<0.001", "value": 6}, "value": 3.5}, "labels": false, "title": null}},
     "y": {"field": "y", "type": "quantitative", "scale": {"domain": [0, 0.9], "nice": false, "zero": false},
       "axis": {"orient": "left", "values": [0,0.05,0.1,0.15,0.2,0.25,0.3,0.35,0.4,0.45,0.5,0.55,0.6,0.65,0.7,0.75,0.8,0.85,0.9], "tickSize": {"condition": {"test": "abs(datum.value*5-round(datum.value*5))<0.001", "value": 6}, "value": 3.5}, "labels": false, "title": null}}
    }},
   {"data": {"name": "e_model"}, "mark": {"type": "line", "color": "#e2232c", "strokeWidth": 3, "interpolate": "monotone", "clip": true},
    "encoding": {"x": {"field": "x", "type": "quantitative", "axis": null}, "y": {"field": "y", "type": "quantitative", "axis": null}}},
   {"data": {"name": "e_crater1"}, "mark": {"type": "line", "color": "#777", "strokeWidth": 2, "strokeDash": [6, 4], "interpolate": "monotone", "clip": true},
    "encoding": {"x": {"field": "x", "type": "quantitative", "axis": null}, "y": {"field": "y", "type": "quantitative", "axis": null}}},
   {"data": {"name": "e_crater2"}, "mark": {"type": "line", "color": "#b5b5b5", "strokeWidth": 2, "strokeDash": [6, 4], "interpolate": "monotone", "clip": true},
    "encoding": {"x": {"field": "x", "type": "quantitative", "axis": null}, "y": {"field": "y", "type": "quantitative", "axis": null}}},
   {"mark": {"type": "text", "text": "Class 5", "fontSize": 23, "fontStyle": "italic", "align": "left", "baseline": "middle"},
    "encoding": {"x": {"datum": 0.182, "type": "quantitative", "axis": null}, "y": {"datum": 0.77, "type": "quantitative", "axis": null}}},
   {"mark": {"type": "text", "text": "e", "fontSize": 22, "align": "center", "baseline": "middle"},
    "encoding": {"x": {"datum": 1.96, "type": "quantitative", "axis": null}, "y": {"datum": 0.79, "type": "quantitative", "axis": null}}},
   {"data": {"name": "class2"}, "mark": {"type": "point", "opacity": 0},
    "encoding": {
     "x": {"field": "x", "type": "quantitative", "axis": {"orient": "top", "values": [0,0.1,0.2,0.3,0.4,0.5,0.6,0.7,0.8,0.9,1,1.1,1.2,1.3,1.4,1.5,1.6,1.7,1.8,1.9,2,2.1,2.2], "tickSize": {"condition": {"test": "abs(datum.value*2-round(datum.value*2))<0.001", "value": 6}, "value": 3.5}, "labels": false, "title": null}},
     "y": {"field": "y", "type": "quantitative", "axis": {"orient": "right", "values": [0,0.05,0.1,0.15,0.2,0.25,0.3,0.35,0.4,0.45,0.5,0.55,0.6,0.65,0.7,0.75,0.8,0.85,0.9], "tickSize": {"condition": {"test": "abs(datum.value*5-round(datum.value*5))<0.001", "value": 6}, "value": 3.5}, "labels": false, "title": null}}
    }}
  ]
 },
 {
  "width": 322, "height": 253,
  "data": {"values": [{}]},
  "resolve": {"axis": {"x": "independent", "y": "independent"}},
  "layer": [
   {"data": {"name": "b_dots"}, "mark": {"type": "point", "filled": true, "color": "#8f8f8f", "opacity": 1, "size": 9},
    "encoding": {
     "x": {"field": "x", "type": "quantitative", "scale": {"domain": [0, 2.2], "nice": false, "zero": false},
       "axis": {"orient": "bottom", "values": [0,0.1,0.2,0.3,0.4,0.5,0.6,0.7,0.8,0.9,1,1.1,1.2,1.3,1.4,1.5,1.6,1.7,1.8,1.9,2,2.1,2.2], "tickSize": {"condition": {"test": "abs(datum.value*2-round(datum.value*2))<0.001", "value": 6}, "value": 3.5}, "labelExpr": "abs(datum.value*2-round(datum.value*2))<0.001 ? format(datum.value,'~g') : ''", "labelPadding": 1, "title": null}},
     "y": {"field": "y", "type": "quantitative", "scale": {"domain": [-0.5, 0.5], "nice": false, "zero": false},
       "axis": {"orient": "left", "values": [-0.5,-0.4,-0.3,-0.2,-0.1,0,0.1,0.2,0.3,0.4,0.5], "tickSize": {"condition": {"test": "abs(datum.value*2-round(datum.value*2))<0.001", "value": 6}, "value": 3.5}, "labelExpr": "datum.value == 0.5 ? '0.5' : datum.value == 0 ? '0' : datum.value == -0.5 ? '-0.5' : ''", "title": "Local gradient [-]", "titlePadding": 14}}
    }},
   {"data": {"name": "b_bins"}, "mark": {"type": "point", "filled": true, "fill": "#858585", "stroke": "#1a1a1a", "strokeWidth": 1, "opacity": 1, "size": 105},
    "encoding": {"x": {"field": "x", "type": "quantitative", "axis": null}, "y": {"field": "y", "type": "quantitative", "axis": null}}},
   {"data": {"name": "b_bins"}, "mark": {"type": "rule", "color": "#111", "strokeWidth": 1},
    "encoding": {"x": {"field": "x", "type": "quantitative", "axis": null}, "y": {"field": "lo", "type": "quantitative", "axis": null}, "y2": {"field": "hi"}}},
   {"data": {"name": "b_bins"}, "mark": {"type": "tick", "orient": "horizontal", "color": "#111", "size": 7, "thickness": 1},
    "encoding": {"x": {"field": "x", "type": "quantitative", "axis": null}, "y": {"field": "lo", "type": "quantitative", "axis": null}}},
   {"data": {"name": "b_bins"}, "mark": {"type": "tick", "orient": "horizontal", "color": "#111", "size": 7, "thickness": 1},
    "encoding": {"x": {"field": "x", "type": "quantitative", "axis": null}, "y": {"field": "hi", "type": "quantitative", "axis": null}}},
   {"data": {"name": "b_model"}, "mark": {"type": "line", "color": "#e2232c", "strokeWidth": 3, "interpolate": "monotone", "clip": true},
    "encoding": {"x": {"field": "x", "type": "quantitative", "axis": null}, "y": {"field": "y", "type": "quantitative", "axis": null}}},
   {"mark": {"type": "text", "text": "b", "fontSize": 22, "align": "center", "baseline": "middle"},
    "encoding": {"x": {"datum": 1.977, "type": "quantitative", "axis": null}, "y": {"datum": 0.418, "type": "quantitative", "axis": null}}},
   {"mark": {"type": "text", "text": "s", "fontSize": 22, "fontStyle": "italic", "align": "left", "baseline": "middle", "dy": -3},
    "encoding": {"x": {"datum": 0.176, "type": "quantitative", "axis": null}, "y": {"datum": 0.284, "type": "quantitative", "axis": null}}},
   {"mark": {"type": "text", "text": "rim", "fontSize": 15, "fontStyle": "italic", "align": "left", "baseline": "middle", "dx": 9, "dy": 4},
    "encoding": {"x": {"datum": 0.176, "type": "quantitative", "axis": null}, "y": {"datum": 0.284, "type": "quantitative", "axis": null}}},
   {"mark": {"type": "text", "text": "= 5.79±1.27°", "fontSize": 14.5, "align": "left", "baseline": "middle", "dx": 32},
    "encoding": {"x": {"datum": 0.176, "type": "quantitative", "axis": null}, "y": {"datum": 0.284, "type": "quantitative", "axis": null}}},
   {"mark": {"type": "text", "text": "s", "fontSize": 22, "fontStyle": "italic", "align": "left", "baseline": "middle", "dy": -3},
    "encoding": {"x": {"datum": 1.186, "type": "quantitative", "axis": null}, "y": {"datum": 0.297, "type": "quantitative", "axis": null}}},
   {"mark": {"type": "text", "text": "wall, model", "fontSize": 15, "fontStyle": "italic", "align": "left", "baseline": "middle", "dx": 9, "dy": 4},
    "encoding": {"x": {"datum": 1.186, "type": "quantitative", "axis": null}, "y": {"datum": 0.297, "type": "quantitative", "axis": null}}},
   {"mark": {"type": "text", "text": "= 16°", "fontSize": 14.5, "align": "left", "baseline": "middle", "dx": 85},
    "encoding": {"x": {"datum": 1.186, "type": "quantitative", "axis": null}, "y": {"datum": 0.297, "type": "quantitative", "axis": null}}},
   {"mark": {"type": "text", "text": "s", "fontSize": 22, "fontStyle": "italic", "align": "left", "baseline": "middle", "dy": -3},
    "encoding": {"x": {"datum": 1.186, "type": "quantitative", "axis": null}, "y": {"datum": 0.194, "type": "quantitative", "axis": null}}},
   {"mark": {"type": "text", "text": "wall", "fontSize": 15, "fontStyle": "italic", "align": "left", "baseline": "middle", "dx": 9, "dy": 4},
    "encoding": {"x": {"datum": 1.186, "type": "quantitative", "axis": null}, "y": {"datum": 0.194, "type": "quantitative", "axis": null}}},
   {"mark": {"type": "text", "text": "= 17.13±1.14°", "fontSize": 14.5, "align": "left", "baseline": "middle", "dx": 37},
    "encoding": {"x": {"datum": 1.186, "type": "quantitative", "axis": null}, "y": {"datum": 0.194, "type": "quantitative", "axis": null}}},
   {"mark": {"type": "text", "text": "s", "fontSize": 22, "fontStyle": "italic", "align": "left", "baseline": "middle", "dy": -3},
    "encoding": {"x": {"datum": 0.165, "type": "quantitative", "axis": null}, "y": {"datum": -0.152, "type": "quantitative", "axis": null}}},
   {"mark": {"type": "text", "text": "rim, model", "fontSize": 15, "fontStyle": "italic", "align": "left", "baseline": "middle", "dx": 9, "dy": 4},
    "encoding": {"x": {"datum": 0.165, "type": "quantitative", "axis": null}, "y": {"datum": -0.152, "type": "quantitative", "axis": null}}},
   {"mark": {"type": "text", "text": "= 5.4°", "fontSize": 14.5, "align": "left", "baseline": "middle", "dx": 80},
    "encoding": {"x": {"datum": 0.165, "type": "quantitative", "axis": null}, "y": {"datum": -0.152, "type": "quantitative", "axis": null}}},
   {"mark": {"type": "text", "text": "t", "fontSize": 22, "fontStyle": "italic", "align": "left", "baseline": "middle"},
    "encoding": {"x": {"datum": 0.085, "type": "quantitative", "axis": null}, "y": {"datum": -0.327, "type": "quantitative", "axis": null}}},
   {"mark": {"type": "text", "text": "= 340 Ma", "fontSize": 22, "align": "left", "baseline": "middle", "dx": 13},
    "encoding": {"x": {"datum": 0.085, "type": "quantitative", "axis": null}, "y": {"datum": -0.327, "type": "quantitative", "axis": null}}},
   {"mark": {"type": "text", "text": "Δt = 160 Myr", "fontSize": 22, "align": "left", "baseline": "middle"},
    "encoding": {"x": {"datum": 0.085, "type": "quantitative", "axis": null}, "y": {"datum": -0.437, "type": "quantitative", "axis": null}}},
   {"data": {"name": "b_model"}, "mark": {"type": "point", "opacity": 0},
    "encoding": {
     "x": {"field": "x", "type": "quantitative", "axis": {"orient": "top", "values": [0,0.1,0.2,0.3,0.4,0.5,0.6,0.7,0.8,0.9,1,1.1,1.2,1.3,1.4,1.5,1.6,1.7,1.8,1.9,2,2.1,2.2], "tickSize": {"condition": {"test": "abs(datum.value*2-round(datum.value*2))<0.001", "value": 6}, "value": 3.5}, "labels": false, "title": null}},
     "y": {"field": "y", "type": "quantitative", "axis": {"orient": "right", "values": [-0.5,-0.4,-0.3,-0.2,-0.1,0,0.1,0.2,0.3,0.4,0.5], "tickSize": {"condition": {"test": "abs(datum.value*2-round(datum.value*2))<0.001", "value": 6}, "value": 3.5}, "labels": false, "title": null}}
    }}
  ]
 },
 {
  "width": 322, "height": 253,
  "data": {"values": [{}]},
  "resolve": {"axis": {"x": "independent", "y": "independent"}},
  "layer": [
   {"data": {"name": "d_dots"}, "mark": {"type": "point", "filled": true, "color": "#8f8f8f", "opacity": 1, "size": 9},
    "encoding": {
     "x": {"field": "x", "type": "quantitative", "scale": {"domain": [0, 2.2], "nice": false, "zero": false},
       "axis": {"orient": "bottom", "values": [0,0.1,0.2,0.3,0.4,0.5,0.6,0.7,0.8,0.9,1,1.1,1.2,1.3,1.4,1.5,1.6,1.7,1.8,1.9,2,2.1,2.2], "tickSize": {"condition": {"test": "abs(datum.value*2-round(datum.value*2))<0.001", "value": 6}, "value": 3.5}, "labelExpr": "abs(datum.value*2-round(datum.value*2))<0.001 ? format(datum.value,'~g') : ''", "labelPadding": 1, "title": "Radial distance normalized by initial crater radius [-]", "titlePadding": 20, "titleFontSize": 22}},
     "y": {"field": "y", "type": "quantitative", "scale": {"domain": [-0.5, 0.5], "nice": false, "zero": false},
       "axis": {"orient": "left", "values": [-0.5,-0.4,-0.3,-0.2,-0.1,0,0.1,0.2,0.3,0.4,0.5], "tickSize": {"condition": {"test": "abs(datum.value*2-round(datum.value*2))<0.001", "value": 6}, "value": 3.5}, "labels": false, "title": null}}
    }},
   {"data": {"name": "d_bins"}, "mark": {"type": "point", "filled": true, "fill": "#858585", "stroke": "#1a1a1a", "strokeWidth": 1, "opacity": 1, "size": 105},
    "encoding": {"x": {"field": "x", "type": "quantitative", "axis": null}, "y": {"field": "y", "type": "quantitative", "axis": null}}},
   {"data": {"name": "d_bins"}, "mark": {"type": "rule", "color": "#111", "strokeWidth": 1},
    "encoding": {"x": {"field": "x", "type": "quantitative", "axis": null}, "y": {"field": "lo", "type": "quantitative", "axis": null}, "y2": {"field": "hi"}}},
   {"data": {"name": "d_bins"}, "mark": {"type": "tick", "orient": "horizontal", "color": "#111", "size": 7, "thickness": 1},
    "encoding": {"x": {"field": "x", "type": "quantitative", "axis": null}, "y": {"field": "lo", "type": "quantitative", "axis": null}}},
   {"data": {"name": "d_bins"}, "mark": {"type": "tick", "orient": "horizontal", "color": "#111", "size": 7, "thickness": 1},
    "encoding": {"x": {"field": "x", "type": "quantitative", "axis": null}, "y": {"field": "hi", "type": "quantitative", "axis": null}}},
   {"data": {"name": "d_model"}, "mark": {"type": "line", "color": "#e2232c", "strokeWidth": 3, "interpolate": "monotone", "clip": true},
    "encoding": {"x": {"field": "x", "type": "quantitative", "axis": null}, "y": {"field": "y", "type": "quantitative", "axis": null}}},
   {"mark": {"type": "text", "text": "d", "fontSize": 22, "align": "center", "baseline": "middle"},
    "encoding": {"x": {"datum": 1.977, "type": "quantitative", "axis": null}, "y": {"datum": 0.413, "type": "quantitative", "axis": null}}},
   {"mark": {"type": "text", "text": "s", "fontSize": 22, "fontStyle": "italic", "align": "left", "baseline": "middle", "dy": -3},
    "encoding": {"x": {"datum": 0.105, "type": "quantitative", "axis": null}, "y": {"datum": 0.19, "type": "quantitative", "axis": null}}},
   {"mark": {"type": "text", "text": "rim", "fontSize": 15, "fontStyle": "italic", "align": "left", "baseline": "middle", "dx": 9, "dy": 4},
    "encoding": {"x": {"datum": 0.105, "type": "quantitative", "axis": null}, "y": {"datum": 0.19, "type": "quantitative", "axis": null}}},
   {"mark": {"type": "text", "text": "= 4.5±0.35°", "fontSize": 14.5, "align": "left", "baseline": "middle", "dx": 33},
    "encoding": {"x": {"datum": 0.105, "type": "quantitative", "axis": null}, "y": {"datum": 0.19, "type": "quantitative", "axis": null}}},
   {"mark": {"type": "text", "text": "s", "fontSize": 22, "fontStyle": "italic", "align": "left", "baseline": "middle", "dy": -3},
    "encoding": {"x": {"datum": 1.146, "type": "quantitative", "axis": null}, "y": {"datum": 0.19, "type": "quantitative", "axis": null}}},
   {"mark": {"type": "text", "text": "wall, model", "fontSize": 15, "fontStyle": "italic", "align": "left", "baseline": "middle", "dx": 9, "dy": 4},
    "encoding": {"x": {"datum": 1.146, "type": "quantitative", "axis": null}, "y": {"datum": 0.19, "type": "quantitative", "axis": null}}},
   {"mark": {"type": "text", "text": "= 14.2°", "fontSize": 14.5, "align": "left", "baseline": "middle", "dx": 86},
    "encoding": {"x": {"datum": 1.146, "type": "quantitative", "axis": null}, "y": {"datum": 0.19, "type": "quantitative", "axis": null}}},
   {"mark": {"type": "text", "text": "s", "fontSize": 22, "fontStyle": "italic", "align": "left", "baseline": "middle", "dy": -3},
    "encoding": {"x": {"datum": 0.121, "type": "quantitative", "axis": null}, "y": {"datum": -0.164, "type": "quantitative", "axis": null}}},
   {"mark": {"type": "text", "text": "rim, model", "fontSize": 15, "fontStyle": "italic", "align": "left", "baseline": "middle", "dx": 9, "dy": 4},
    "encoding": {"x": {"datum": 0.121, "type": "quantitative", "axis": null}, "y": {"datum": -0.164, "type": "quantitative", "axis": null}}},
   {"mark": {"type": "text", "text": "= 4.1°", "fontSize": 14.5, "align": "left", "baseline": "middle", "dx": 80},
    "encoding": {"x": {"datum": 0.121, "type": "quantitative", "axis": null}, "y": {"datum": -0.164, "type": "quantitative", "axis": null}}},
   {"mark": {"type": "text", "text": "s", "fontSize": 22, "fontStyle": "italic", "align": "left", "baseline": "middle", "dy": -3},
    "encoding": {"x": {"datum": 1.362, "type": "quantitative", "axis": null}, "y": {"datum": -0.315, "type": "quantitative", "axis": null}}},
   {"mark": {"type": "text", "text": "wall", "fontSize": 15, "fontStyle": "italic", "align": "left", "baseline": "middle", "dx": 9, "dy": 4},
    "encoding": {"x": {"datum": 1.362, "type": "quantitative", "axis": null}, "y": {"datum": -0.315, "type": "quantitative", "axis": null}}},
   {"mark": {"type": "text", "text": "= 15.5±1.6°", "fontSize": 14.5, "align": "left", "baseline": "middle", "dx": 37},
    "encoding": {"x": {"datum": 1.362, "type": "quantitative", "axis": null}, "y": {"datum": -0.315, "type": "quantitative", "axis": null}}},
   {"mark": {"type": "text", "text": "t", "fontSize": 22, "fontStyle": "italic", "align": "left", "baseline": "middle"},
    "encoding": {"x": {"datum": 0.109, "type": "quantitative", "axis": null}, "y": {"datum": -0.308, "type": "quantitative", "axis": null}}},
   {"mark": {"type": "text", "text": "= 430 Ma", "fontSize": 22, "align": "left", "baseline": "middle", "dx": 13},
    "encoding": {"x": {"datum": 0.109, "type": "quantitative", "axis": null}, "y": {"datum": -0.308, "type": "quantitative", "axis": null}}},
   {"mark": {"type": "text", "text": "Δt = 250 Myr", "fontSize": 22, "align": "left", "baseline": "middle"},
    "encoding": {"x": {"datum": 0.109, "type": "quantitative", "axis": null}, "y": {"datum": -0.42, "type": "quantitative", "axis": null}}},
   {"data": {"name": "d_model"}, "mark": {"type": "point", "opacity": 0},
    "encoding": {
     "x": {"field": "x", "type": "quantitative", "axis": {"orient": "top", "values": [0,0.1,0.2,0.3,0.4,0.5,0.6,0.7,0.8,0.9,1,1.1,1.2,1.3,1.4,1.5,1.6,1.7,1.8,1.9,2,2.1,2.2], "tickSize": {"condition": {"test": "abs(datum.value*2-round(datum.value*2))<0.001", "value": 6}, "value": 3.5}, "labels": false, "title": null}},
     "y": {"field": "y", "type": "quantitative", "axis": {"orient": "right", "values": [-0.5,-0.4,-0.3,-0.2,-0.1,0,0.1,0.2,0.3,0.4,0.5], "tickSize": {"condition": {"test": "abs(datum.value*2-round(datum.value*2))<0.001", "value": 6}, "value": 3.5}, "labels": false, "title": null}}
    }}
  ]
 },
 {
  "width": 322, "height": 253,
  "data": {"values": [{}]},
  "resolve": {"axis": {"x": "independent", "y": "independent"}},
  "layer": [
   {"data": {"name": "f_dots"}, "mark": {"type": "point", "filled": true, "color": "#8f8f8f", "opacity": 1, "size": 9},
    "encoding": {
     "x": {"field": "x", "type": "quantitative", "scale": {"domain": [0, 2.2], "nice": false, "zero": false},
       "axis": {"orient": "bottom", "values": [0,0.1,0.2,0.3,0.4,0.5,0.6,0.7,0.8,0.9,1,1.1,1.2,1.3,1.4,1.5,1.6,1.7,1.8,1.9,2,2.1,2.2], "tickSize": {"condition": {"test": "abs(datum.value*2-round(datum.value*2))<0.001", "value": 6}, "value": 3.5}, "labelExpr": "abs(datum.value*2-round(datum.value*2))<0.001 ? format(datum.value,'~g') : ''", "labelPadding": 1, "title": null}},
     "y": {"field": "y", "type": "quantitative", "scale": {"domain": [-0.5, 0.5], "nice": false, "zero": false},
       "axis": {"orient": "left", "values": [-0.5,-0.4,-0.3,-0.2,-0.1,0,0.1,0.2,0.3,0.4,0.5], "tickSize": {"condition": {"test": "abs(datum.value*2-round(datum.value*2))<0.001", "value": 6}, "value": 3.5}, "labels": false, "title": null}}
    }},
   {"data": {"name": "f_bins"}, "mark": {"type": "point", "filled": true, "fill": "#858585", "stroke": "#1a1a1a", "strokeWidth": 1, "opacity": 1, "size": 105},
    "encoding": {"x": {"field": "x", "type": "quantitative", "axis": null}, "y": {"field": "y", "type": "quantitative", "axis": null}}},
   {"data": {"name": "f_bins"}, "mark": {"type": "rule", "color": "#111", "strokeWidth": 1},
    "encoding": {"x": {"field": "x", "type": "quantitative", "axis": null}, "y": {"field": "lo", "type": "quantitative", "axis": null}, "y2": {"field": "hi"}}},
   {"data": {"name": "f_bins"}, "mark": {"type": "tick", "orient": "horizontal", "color": "#111", "size": 7, "thickness": 1},
    "encoding": {"x": {"field": "x", "type": "quantitative", "axis": null}, "y": {"field": "lo", "type": "quantitative", "axis": null}}},
   {"data": {"name": "f_bins"}, "mark": {"type": "tick", "orient": "horizontal", "color": "#111", "size": 7, "thickness": 1},
    "encoding": {"x": {"field": "x", "type": "quantitative", "axis": null}, "y": {"field": "hi", "type": "quantitative", "axis": null}}},
   {"data": {"name": "f_model"}, "mark": {"type": "line", "color": "#e2232c", "strokeWidth": 3, "interpolate": "monotone", "clip": true},
    "encoding": {"x": {"field": "x", "type": "quantitative", "axis": null}, "y": {"field": "y", "type": "quantitative", "axis": null}}},
   {"mark": {"type": "text", "text": "f", "fontSize": 22, "align": "center", "baseline": "middle"},
    "encoding": {"x": {"datum": 1.936, "type": "quantitative", "axis": null}, "y": {"datum": 0.42, "type": "quantitative", "axis": null}}},
   {"mark": {"type": "text", "text": "s", "fontSize": 22, "fontStyle": "italic", "align": "left", "baseline": "middle", "dy": -3},
    "encoding": {"x": {"datum": 0.114, "type": "quantitative", "axis": null}, "y": {"datum": 0.276, "type": "quantitative", "axis": null}}},
   {"mark": {"type": "text", "text": "rim", "fontSize": 15, "fontStyle": "italic", "align": "left", "baseline": "middle", "dx": 9, "dy": 4},
    "encoding": {"x": {"datum": 0.114, "type": "quantitative", "axis": null}, "y": {"datum": 0.276, "type": "quantitative", "axis": null}}},
   {"mark": {"type": "text", "text": "= 2.6±0.32°", "fontSize": 14.5, "align": "left", "baseline": "middle", "dx": 33},
    "encoding": {"x": {"datum": 0.114, "type": "quantitative", "axis": null}, "y": {"datum": 0.276, "type": "quantitative", "axis": null}}},
   {"mark": {"type": "text", "text": "s", "fontSize": 22, "fontStyle": "italic", "align": "left", "baseline": "middle", "dy": -3},
    "encoding": {"x": {"datum": 0.114, "type": "quantitative", "axis": null}, "y": {"datum": 0.164, "type": "quantitative", "axis": null}}},
   {"mark": {"type": "text", "text": "rim, model", "fontSize": 15, "fontStyle": "italic", "align": "left", "baseline": "middle", "dx": 9, "dy": 4},
    "encoding": {"x": {"datum": 0.114, "type": "quantitative", "axis": null}, "y": {"datum": 0.164, "type": "quantitative", "axis": null}}},
   {"mark": {"type": "text", "text": "= 2.5°", "fontSize": 14.5, "align": "left", "baseline": "middle", "dx": 80},
    "encoding": {"x": {"datum": 0.114, "type": "quantitative", "axis": null}, "y": {"datum": 0.164, "type": "quantitative", "axis": null}}},
   {"mark": {"type": "text", "text": "eolian infilling", "fontSize": 19, "align": "center", "baseline": "middle"},
    "encoding": {"x": {"datum": 1.567, "type": "quantitative", "axis": null}, "y": {"datum": 0.138, "type": "quantitative", "axis": null}}},
   {"mark": {"type": "rule", "color": "#111", "strokeWidth": 1.5},
    "encoding": {"x": {"datum": 1.492, "type": "quantitative", "axis": null}, "y": {"datum": 0.098, "type": "quantitative", "axis": null}, "x2": {"datum": 1.656}, "y2": {"datum": 0.005}}},
   {"mark": {"type": "point", "shape": "triangle-up", "filled": true, "color": "#111", "opacity": 1, "size": 70, "angle": 135},
    "encoding": {"x": {"datum": 1.656, "type": "quantitative", "axis": null}, "y": {"datum": 0.005, "type": "quantitative", "axis": null}}},
   {"mark": {"type": "text", "text": "s", "fontSize": 22, "fontStyle": "italic", "align": "left", "baseline": "middle", "dy": -3},
    "encoding": {"x": {"datum": 0.114, "type": "quantitative", "axis": null}, "y": {"datum": -0.197, "type": "quantitative", "axis": null}}},
   {"mark": {"type": "text", "text": "wall, model", "fontSize": 15, "fontStyle": "italic", "align": "left", "baseline": "middle", "dx": 9, "dy": 4},
    "encoding": {"x": {"datum": 0.114, "type": "quantitative", "axis": null}, "y": {"datum": -0.197, "type": "quantitative", "axis": null}}},
   {"mark": {"type": "text", "text": "= 11.7°", "fontSize": 14.5, "align": "left", "baseline": "middle", "dx": 84},
    "encoding": {"x": {"datum": 0.114, "type": "quantitative", "axis": null}, "y": {"datum": -0.197, "type": "quantitative", "axis": null}}},
   {"mark": {"type": "text", "text": "s", "fontSize": 22, "fontStyle": "italic", "align": "left", "baseline": "middle", "dy": -3},
    "encoding": {"x": {"datum": 1.241, "type": "quantitative", "axis": null}, "y": {"datum": -0.308, "type": "quantitative", "axis": null}}},
   {"mark": {"type": "text", "text": "wall", "fontSize": 15, "fontStyle": "italic", "align": "left", "baseline": "middle", "dx": 9, "dy": 4},
    "encoding": {"x": {"datum": 1.241, "type": "quantitative", "axis": null}, "y": {"datum": -0.308, "type": "quantitative", "axis": null}}},
   {"mark": {"type": "text", "text": "= 13.1±1.7°", "fontSize": 14.5, "align": "left", "baseline": "middle", "dx": 37},
    "encoding": {"x": {"datum": 1.241, "type": "quantitative", "axis": null}, "y": {"datum": -0.308, "type": "quantitative", "axis": null}}},
   {"mark": {"type": "text", "text": "t", "fontSize": 22, "fontStyle": "italic", "align": "left", "baseline": "middle"},
    "encoding": {"x": {"datum": 0.114, "type": "quantitative", "axis": null}, "y": {"datum": -0.328, "type": "quantitative", "axis": null}}},
   {"mark": {"type": "text", "text": "= 660 Ma", "fontSize": 22, "align": "left", "baseline": "middle", "dx": 13},
    "encoding": {"x": {"datum": 0.114, "type": "quantitative", "axis": null}, "y": {"datum": -0.328, "type": "quantitative", "axis": null}}},
   {"mark": {"type": "text", "text": "Δt = 480 Myr", "fontSize": 22, "align": "left", "baseline": "middle"},
    "encoding": {"x": {"datum": 0.114, "type": "quantitative", "axis": null}, "y": {"datum": -0.44, "type": "quantitative", "axis": null}}},
   {"data": {"name": "f_model"}, "mark": {"type": "point", "opacity": 0},
    "encoding": {
     "x": {"field": "x", "type": "quantitative", "axis": {"orient": "top", "values": [0,0.1,0.2,0.3,0.4,0.5,0.6,0.7,0.8,0.9,1,1.1,1.2,1.3,1.4,1.5,1.6,1.7,1.8,1.9,2,2.1,2.2], "tickSize": {"condition": {"test": "abs(datum.value*2-round(datum.value*2))<0.001", "value": 6}, "value": 3.5}, "labels": false, "title": null}},
     "y": {"field": "y", "type": "quantitative", "axis": {"orient": "right", "values": [-0.5,-0.4,-0.3,-0.2,-0.1,0,0.1,0.2,0.3,0.4,0.5], "tickSize": {"condition": {"test": "abs(datum.value*2-round(datum.value*2))<0.001", "value": 6}, "value": 3.5}, "labels": false, "title": null}}
    }}
  ]
 }
]
}
